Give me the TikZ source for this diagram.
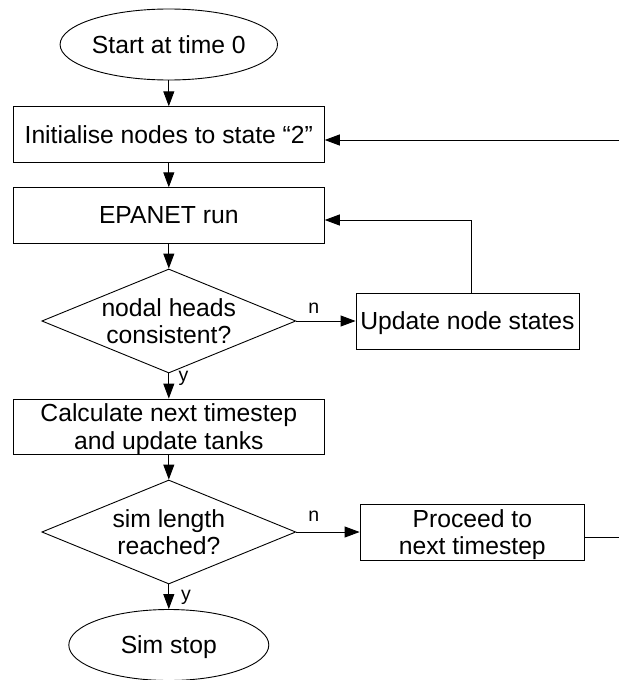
\documentclass[tikz,border=0pt]{standalone}
\usepackage{fontspec}
\setmainfont{Liberation Sans}
\usetikzlibrary{shapes.geometric,arrows.meta,calc}
\begin{document}
\begin{tikzpicture}[x=1pt,y=-1pt,
  every node/.style={font=\fontsize{24.7}{27.6}\selectfont, inner sep=0pt},
  procbox/.style={draw, rectangle, align=center, line width=0.9pt, text depth=0pt},
  term/.style={draw, ellipse, minimum width=200pt, minimum height=71pt, text depth=0pt, line width=0.9pt},
  dec/.style={draw, diamond, minimum width=254pt, minimum height=104pt, line width=0.9pt},
  lab/.style={font=\fontsize{19.5}{21}\selectfont},
  arr/.style={-{Triangle[length=15pt,width=11pt]}, line width=0.9pt}]
\useasboundingbox (0,0) rectangle (619,680);

\node[term] (start) at (168.8,44.5) {Start at time 0};
\node[procbox, minimum width=311pt, minimum height=55.5pt] (init) at (168.8,134.5) {Initialise nodes to state “2”};
\node[procbox, minimum width=311pt, minimum height=55.5pt] (epanet) at (168.8,215.5) {EPANET run};
\node[dec] (d1) at (168.8,321) {};
\node[align=center] (d1t) at (d1.center) {nodal heads\\consistent?};
\node[procbox, minimum width=223pt, minimum height=56pt] (upd) at (467.5,321) {Update node states};
\node[procbox, minimum width=311pt, minimum height=55pt] (calc) at (168.8,426.5) {Calculate next timestep\\and update tanks};
\node[dec] (d2) at (168.8,532) {};
\node[align=center] (d2t) at (d2.center) {sim length\\reached?};
\node[procbox, minimum width=224.5pt, minimum height=56pt] (proc) at (472.3,532) {Proceed to\\next timestep};
\node[term] (sim) at (168.8,645) {Sim stop};

\node[lab] (n1) at (313.8,308.7) {n};
\node[lab] (y1) at (183.5,378.7) {y};
\node[lab] (n2) at (313.8,516) {n};
\node[lab] (y2) at (186,597) {y};

\draw[arr] (start) -- (init);
\draw[arr] (init) -- (epanet);
\draw[arr] (epanet) -- (d1);
\draw[arr] (d1) -- (calc);
\draw[arr] (d1) -- (upd);
\draw[arr] (calc) -- (d2);
\draw[arr] (d2) -- (sim);
\draw[arr] (d2) -- (proc);

\coordinate (u1) at (471.5,220);
\draw[arr] (u1 |- upd.north) -- (u1) -- (u1 -| epanet.east);

\coordinate (r1) at (619,140);
\draw[arr] (r1) -- (r1 -| init.east);

\coordinate (r2) at (619,537);
\draw[line width=0.9pt] (proc.east |- r2) -- (r2);
\end{tikzpicture}
\end{document}
